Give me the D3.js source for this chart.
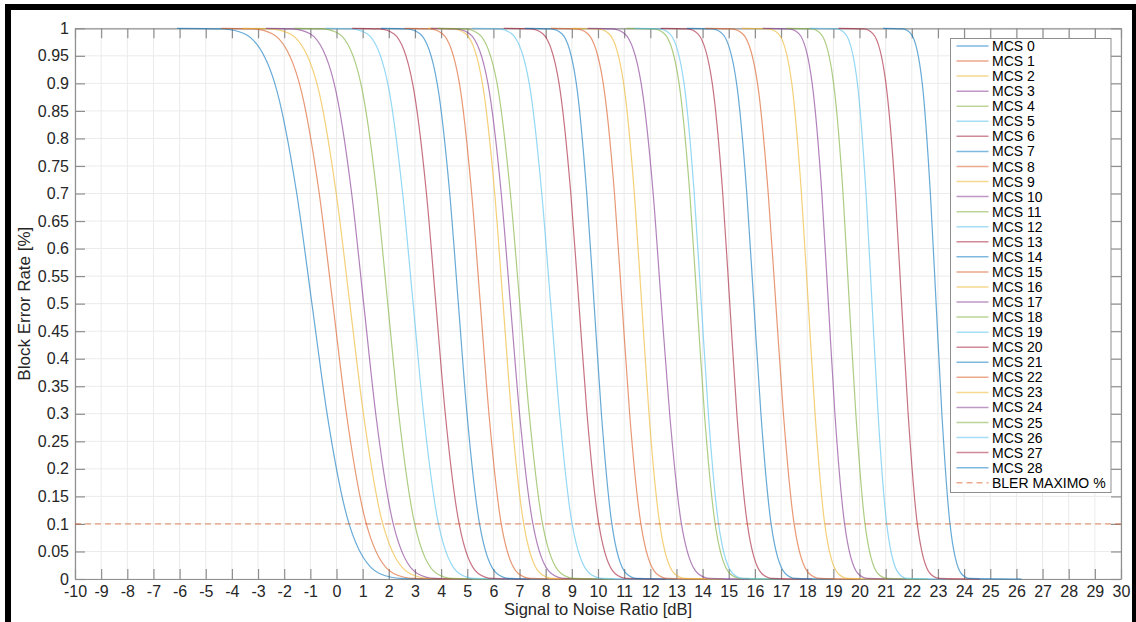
<!DOCTYPE html>
<html>
<head>
<meta charset="utf-8">
<script src="https://cdn.jsdelivr.net/npm/d3@7"></script>
<style>
  html, body { margin: 0; padding: 0; background: #fff; }
  svg { display: block; font-family: "Liberation Sans", Arial, Helvetica, sans-serif; }
</style>
</head>
<body>
<svg id="chart" width="1136" height="622"></svg>
<script>
// ---------------- DATA ----------------
const mcsLabels = ["MCS 0","MCS 1","MCS 2","MCS 3","MCS 4","MCS 5","MCS 6","MCS 7","MCS 8","MCS 9",
  "MCS 10","MCS 11","MCS 12","MCS 13","MCS 14","MCS 15","MCS 16","MCS 17","MCS 18","MCS 19",
  "MCS 20","MCS 21","MCS 22","MCS 23","MCS 24","MCS 25","MCS 26","MCS 27","MCS 28"];

// BLER levels at which the SNR of every curve was read
const blerLevels = [1, 0.999, 0.99, 0.9, 0.7, 0.5, 0.3, 0.1, 0.01, 0.001, 0];

// SNR [dB] where each curve starts (flat at BLER = 1)
const snrStart = [-6.1,-4.4,-3.6,-2.7,-1.6,-0.4,0.6,1.7,2.6,3.5,3.6,3.9,5.2,6.4,7.2,8.2,9.0,9.6,11.1,11.4,12.4,13.4,14.1,15.5,16.3,17.2,18.1,19.2,20.9];
const snrAt999 = [-4.36,-3.23,-2.53,-1.68,-0.52,0.59,1.65,2.71,3.57,4.47,4.58,4.91,6.21,7.44,8.21,9.18,10.01,10.56,12.13,12.36,13.43,14.37,15.11,16.52,17.31,18.16,19.13,20.16,21.65];
const snrAt99 = [-3.52,-2.46,-1.78,-1.01,0.09,1.17,2.19,3.19,4.05,4.94,5.09,5.43,6.70,7.89,8.62,9.61,10.42,11.02,12.54,12.75,13.82,14.76,15.53,16.90,17.69,18.52,19.46,20.52,21.97];
const snrAt90 = [-2.36,-1.42,-0.75,-0.09,0.93,1.96,2.91,3.85,4.70,5.58,5.79,6.14,7.37,8.51,9.17,10.20,10.98,11.65,13.10,13.29,14.37,15.30,16.10,17.41,18.19,19.01,19.92,21.01,22.40];
const snrAt70 = [-1.52,-0.66,-0.01,0.58,1.54,2.53,3.44,4.33,5.17,6.05,6.30,6.65,7.85,8.96,9.57,10.63,11.39,12.11,13.51,13.68,14.77,15.69,16.51,17.78,18.56,19.37,20.25,21.37,22.71];
const snrAt50 = [-0.94,-0.14,0.51,1.04,1.96,2.93,3.80,4.66,5.50,6.37,6.65,7.01,8.19,9.27,9.85,10.92,11.67,12.42,13.79,13.95,15.04,15.96,16.80,18.04,18.81,19.61,20.48,21.61,22.93];
const snrAt30 = [-0.36,0.38,1.03,1.50,2.38,3.33,4.16,4.99,5.83,6.69,7.00,7.37,8.53,9.58,10.13,11.21,11.95,12.74,14.07,14.22,15.31,16.23,17.09,18.30,19.06,19.86,20.71,21.86,23.15];
const snrAt10 = [0.48,1.14,1.77,2.17,2.99,3.90,4.69,5.47,6.30,7.16,7.51,7.88,9.01,10.03,10.53,11.64,12.36,13.19,14.48,14.61,15.71,16.62,17.50,18.67,19.43,20.21,21.04,22.21,23.46];
const snrAt01 = [1.64,2.18,2.80,3.09,3.83,4.69,5.42,6.13,6.95,7.80,8.21,8.59,9.68,10.65,11.08,12.23,12.92,13.82,15.04,15.15,16.26,17.16,18.07,19.18,19.94,20.70,21.50,22.70,23.89];
const snrAt001 = [2.48,2.95,3.55,3.76,4.44,5.27,5.95,6.61,7.43,8.28,8.72,9.11,10.17,11.10,11.49,12.66,13.33,14.28,15.45,15.54,16.66,17.55,18.49,19.56,20.31,21.06,21.83,23.06,24.21];
// SNR where each curve ends (flat at BLER = 0)
const snrEnd = [4.0,4.4,5.0,5.2,5.9,6.8,7.4,8.1,8.9,9.8,10.2,10.6,11.7,12.6,13.0,14.2,14.8,15.8,16.9,17.0,18.2,19.0,20.0,21.1,21.8,22.6,23.3,24.6,26.2];

const blerMax = 0.1;
const xTicks = [-10,-9,-8,-7,-6,-5,-4,-3,-2,-1,0,1,2,3,4,5,6,7,8,9,10,11,12,13,14,15,16,17,18,19,20,21,22,23,24,25,26,27,28,29,30];
const yTicks = [0,0.05,0.1,0.15,0.2,0.25,0.3,0.35,0.4,0.45,0.5,0.55,0.6,0.65,0.7,0.75,0.8,0.85,0.9,0.95,1];
const yTickLabels = ["0","0.05","0.1","0.15","0.2","0.25","0.3","0.35","0.4","0.45","0.5","0.55","0.6","0.65","0.7","0.75","0.8","0.85","0.9","0.95","1"];
const colorOrder = ["#0072BD","#D95319","#EDB120","#7E2F8E","#77AC30","#4DBEEE","#A2142F"];
const xLabel = "Signal to Noise Ratio [dB]";
const yLabel = "Block Error Rate [%]";
const blerLabel = "BLER MAXIMO %";

// ---------------- LAYOUT ----------------
const svg = d3.select("#chart");
const L = 75, R = 1121, T = 28.3, B = 579;
const x = d3.scaleLinear().domain([-10, 30]).range([L, R]);
const y = d3.scaleLinear().domain([0, 1]).range([B, T]);
const textColor = "#262626";
const axisColor = "#8f8f8f";
const gridColor = "#ebebeb";

// frame of the screenshot
svg.append("rect").attr("x", 0).attr("y", 0).attr("width", 1136).attr("height", 622).attr("fill", "#fff");
svg.append("rect").attr("x", 5).attr("y", 4).attr("width", 1131).attr("height", 6).attr("fill", "#000");
svg.append("rect").attr("x", 5).attr("y", 4).attr("width", 6).attr("height", 618).attr("fill", "#000");
svg.append("rect").attr("x", 1132).attr("y", 4).attr("width", 4).attr("height", 618).attr("fill", "#000");

// grid
const grid = svg.append("g");
grid.selectAll("line.gx").data(xTicks).join("line")
  .attr("x1", d => x(d)).attr("x2", d => x(d)).attr("y1", T).attr("y2", B)
  .attr("stroke", gridColor).attr("stroke-width", 1);
grid.selectAll("line.gy").data(yTicks).join("line")
  .attr("x1", L).attr("x2", R).attr("y1", d => y(d)).attr("y2", d => y(d))
  .attr("stroke", gridColor).attr("stroke-width", 1);

// axes (box with inward ticks)
const tickLen = 10;
const fmtY = d => yTickLabels[yTicks.indexOf(d)];
const axB = svg.append("g").attr("transform", `translate(0,${B})`)
  .call(d3.axisBottom(x).tickValues(xTicks).tickSizeInner(-tickLen).tickSizeOuter(0).tickPadding(7).tickFormat(d3.format("d")));
const axT = svg.append("g").attr("transform", `translate(0,${T})`)
  .call(d3.axisTop(x).tickValues(xTicks).tickSizeInner(-tickLen).tickSizeOuter(0).tickFormat(""));
const axL = svg.append("g").attr("transform", `translate(${L},0)`)
  .call(d3.axisLeft(y).tickValues(yTicks).tickSizeInner(-tickLen).tickSizeOuter(0).tickPadding(6).tickFormat(fmtY));
const axR = svg.append("g").attr("transform", `translate(${R},0)`)
  .call(d3.axisRight(y).tickValues(yTicks).tickSizeInner(-tickLen).tickSizeOuter(0).tickFormat(""));
[axB, axT, axL, axR].forEach(g => {
  g.select(".domain").attr("stroke", axisColor).attr("stroke-width", 1.2);
  g.selectAll(".tick line").attr("stroke", axisColor).attr("stroke-width", 1.2);
  g.selectAll(".tick text").attr("fill", textColor).attr("font-size", 16)
    .attr("font-family", "Liberation Sans, Arial, sans-serif");
});
axB.selectAll(".tick text").text(d => d < 0 ? "-" + Math.abs(d) : String(d));

// axis labels
svg.append("text").attr("x", (L + R) / 2).attr("y", 615)
  .attr("text-anchor", "middle").attr("font-size", 16.5).attr("fill", textColor).text(xLabel);
svg.append("text").attr("transform", `translate(30,${(T + B) / 2}) rotate(-90)`)
  .attr("text-anchor", "middle").attr("font-size", 17).attr("fill", textColor).text(yLabel);

// curves
const series = mcsLabels.map((name, i) => ({
  name,
  color: colorOrder[i % colorOrder.length],
  points: [snrStart[i], snrAt999[i], snrAt99[i], snrAt90[i], snrAt70[i], snrAt50[i], snrAt30[i], snrAt10[i], snrAt01[i], snrAt001[i], snrEnd[i]]
    .map((s, k) => [s, blerLevels[k]])
}));
const line = d3.line().x(d => x(d[0])).y(d => y(d[1])).curve(d3.curveMonotoneX);
const lineOpacity = 0.6;
svg.append("g").selectAll("path").data(series).join("path")
  .attr("d", d => line(d.points))
  .attr("fill", "none").attr("stroke", d => d.color)
  .attr("stroke-width", 1.2).attr("stroke-opacity", lineOpacity);

// BLER max dashed line
svg.append("line").attr("x1", x(-10)).attr("x2", x(30)).attr("y1", y(blerMax)).attr("y2", y(blerMax))
  .attr("stroke", "#D95319").attr("stroke-opacity", 0.55).attr("stroke-width", 1.3).attr("stroke-dasharray", "6,4");

// legend
const lgX = 950.5, lgY = 38.5, lgW = 160.5, lgH = 454;
const lg = svg.append("g");
lg.append("rect").attr("x", lgX).attr("y", lgY).attr("width", lgW).attr("height", lgH)
  .attr("fill", "#fff").attr("stroke", axisColor).attr("stroke-width", 1);
const rowY = i => 46 + i * 15.06;
const entries = series.map(s => ({ name: s.name, color: s.color, dash: null, op: 0.5 }))
  .concat([{ name: blerLabel, color: "#D95319", dash: "6,4", op: 0.5 }]);
const rows = lg.selectAll("g.row").data(entries).join("g").attr("class", "row");
rows.append("line").attr("x1", 956.5).attr("x2", 988.5)
  .attr("y1", (d, i) => rowY(i)).attr("y2", (d, i) => rowY(i))
  .attr("stroke", d => d.color).attr("stroke-opacity", d => d.op).attr("stroke-width", 1.5)
  .attr("stroke-dasharray", d => d.dash);
rows.append("text").attr("x", 992).attr("y", (d, i) => rowY(i)).attr("dy", "0.36em")
  .attr("font-size", 14).attr("fill", "#000").text(d => d.name);
</script>
</body>
</html>
